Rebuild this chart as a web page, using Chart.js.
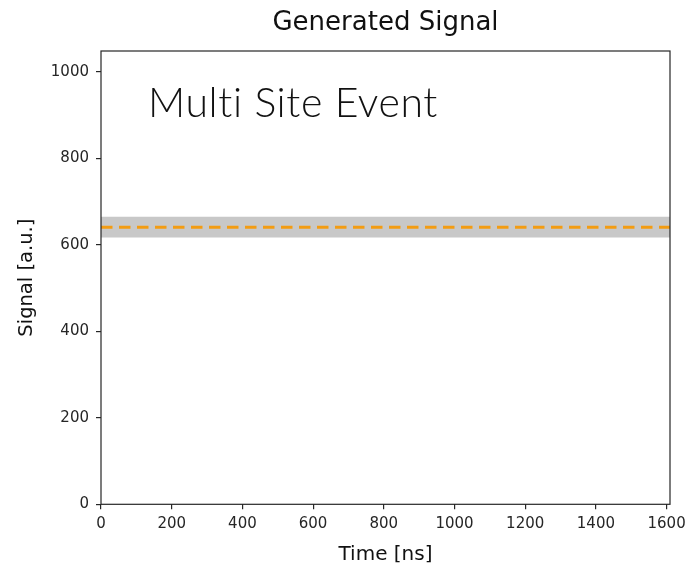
<!DOCTYPE html>
<html>
<head>
<meta charset="utf-8">
<script src="https://cdn.jsdelivr.net/npm/chart.js@4/dist/chart.umd.min.js"></script>
<style>
  html, body { margin: 0; padding: 0; background: #fff; }
  #wrap { width: 688px; height: 567px; position: relative; }
</style>
</head>
<body>
<div id="wrap"><canvas id="c" width="688" height="567"></canvas></div>
<script>
// Generated signal: constant level with its uncertainty band
const timeNs = [0, 1610];
const signal = [641, 641];
const bandLower = [617, 617];
const bandUpper = [665, 665];

const xTicks = [0, 200, 400, 600, 800, 1000, 1200, 1400, 1600];
const yTicks = [0, 200, 400, 600, 800, 1000];

const titleText = 'Generated Signal';
const xLabel = 'Time [ns]';
const yLabel = 'Signal [a.u.]';
const eventLabel = 'Multi Site Event';

const pts = (ys) => timeNs.map((t, i) => ({ x: t, y: ys[i] }));

// Frame around the plot area, the title centred over it, and the in-plot annotation
const framePlugin = {
  id: 'frame',
  afterDatasetsDraw(chart) {
    const { ctx, chartArea: a, scales } = chart;
    ctx.save();
    ctx.strokeStyle = '#262626';
    ctx.lineWidth = 1.2;
    ctx.strokeRect(a.left, a.top, a.right - a.left, a.bottom - a.top);

    ctx.fillStyle = '#111';
    ctx.textAlign = 'center';
    ctx.textBaseline = 'alphabetic';
    ctx.font = '26px "DejaVu Sans"';
    ctx.fillText(titleText, (a.left + a.right) / 2, 30);

    ctx.textAlign = 'left';
    ctx.font = '300 41px Lato';
    if ('letterSpacing' in ctx) ctx.letterSpacing = '0.6px';
    ctx.fillText(eventLabel, scales.x.getPixelForValue(133), scales.y.getPixelForValue(895));
    ctx.restore();
  }
};

const tickColor = '#262626';
const tickFont = { family: 'DejaVu Sans', size: 15 };
const plain = (v) => String(v);

new Chart(document.getElementById('c'), {
  type: 'line',
  data: {
    datasets: [
      {
        label: 'upper',
        data: pts(bandUpper),
        borderWidth: 0,
        pointRadius: 0,
        backgroundColor: 'rgb(200,200,200)',
        fill: '+1',
        order: 2
      },
      {
        label: 'lower',
        data: pts(bandLower),
        borderWidth: 0,
        pointRadius: 0,
        fill: false,
        order: 2
      },
      {
        label: 'signal',
        data: pts(signal),
        borderColor: '#f39c12',
        borderWidth: 3,
        borderDash: [11.5, 6.5],
        pointRadius: 0,
        fill: false,
        order: 1
      }
    ]
  },
  options: {
    responsive: false,
    animation: false,
    layout: { padding: { left: 0, right: 18, top: 51, bottom: 0 } },
    plugins: {
      legend: { display: false },
      tooltip: { enabled: false },
      title: { display: false }
    },
    scales: {
      x: {
        type: 'linear',
        min: 0,
        max: 1609.6,
        afterFit(s) { s.height = 62.7; s.paddingLeft = 0; s.paddingRight = 0; },
        afterBuildTicks(s) { s.ticks = xTicks.map(v => ({ value: v })); },
        ticks: { color: tickColor, font: tickFont, padding: 5.5, maxRotation: 0, includeBounds: false, callback: plain },
        grid: { drawOnChartArea: false, drawTicks: true, tickLength: 5, color: tickColor, lineWidth: 1.2 },
        border: { display: false },
        title: {
          display: true,
          text: xLabel,
          color: '#111',
          font: { family: 'DejaVu Sans', size: 20 },
          padding: { top: 0, bottom: 0 }
        }
      },
      y: {
        type: 'linear',
        min: 0,
        max: 1048.6,
        afterFit(s) { s.width = 101; s.paddingTop = 0; s.paddingBottom = 0; },
        afterBuildTicks(s) { s.ticks = yTicks.map(v => ({ value: v })); },
        ticks: { color: tickColor, font: tickFont, padding: 7, includeBounds: false, callback: plain },
        grid: { drawOnChartArea: false, drawTicks: true, tickLength: 5, color: tickColor, lineWidth: 1.2 },
        border: { display: false },
        title: {
          display: true,
          text: yLabel,
          color: '#111',
          font: { family: 'DejaVu Sans', size: 19.5 },
          padding: { top: 15, bottom: 0 }
        }
      }
    }
  },
  plugins: [framePlugin]
});
</script>
</body>
</html>
